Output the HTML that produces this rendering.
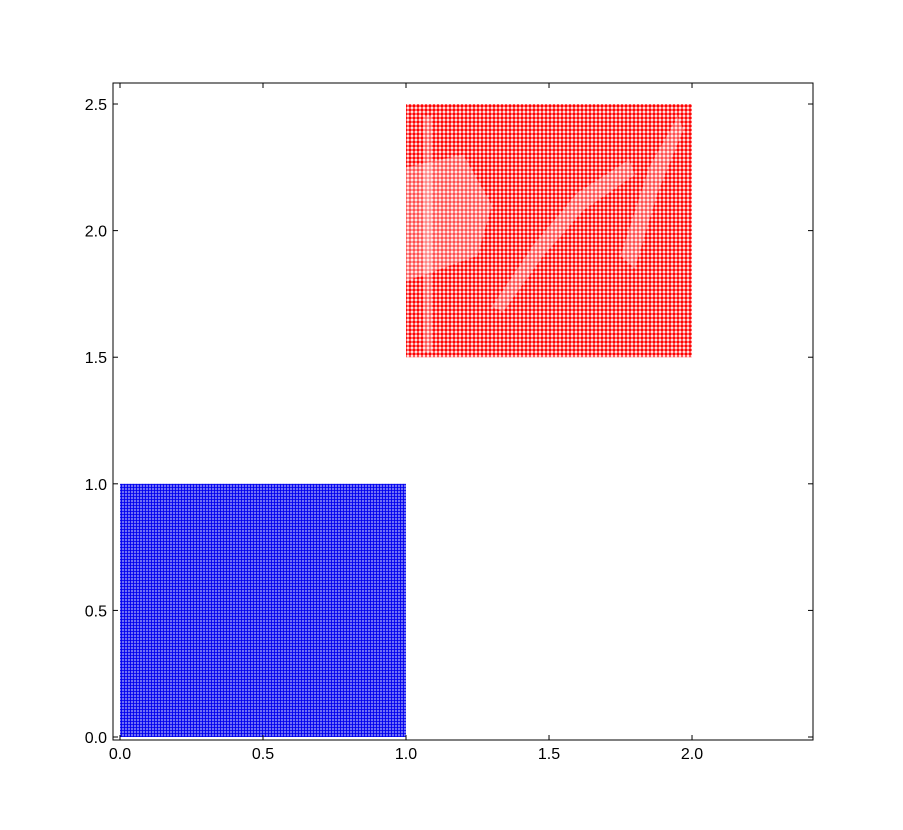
<!DOCTYPE html>
<html><head><meta charset="utf-8"><style>
body{margin:0;background:#fff;}
svg text{font-family:"Liberation Sans",sans-serif;font-size:16px;fill:#000;}
</style></head><body>
<svg id="chart" width="903" height="825">
<defs>
<pattern id="bdots" width="3" height="3" patternUnits="userSpaceOnUse"><rect width="3" height="3" fill="#fff"/><circle cx="1.5" cy="1.5" r="1.45" fill="#0000ee"/></pattern>
<pattern id="rdots" width="4" height="4" patternUnits="userSpaceOnUse"><rect width="4" height="4" fill="#fff"/><circle cx="2" cy="2" r="1.7" fill="#ff0000"/></pattern>
</defs>
<g id="marks"></g>
<g id="axes"></g>
</svg>
<script>
// data
const xTicks=[0,0.5,1,1.5,2];
const xTickLabels=["0.0","0.5","1.0","1.5","2.0"];
const yTicks=[0,0.5,1,1.5,2,2.5];
const yTickLabels=["0.0","0.5","1.0","1.5","2.0","2.5"];
const blueX=[0,1];const blueY=[0,1];
const redX=[1,2];const redY=[1.5,2.5];
// sparse (whiter) regions in the red stipple image, polygons in data units
const redGaps=[
 [1.06,1.52, 1.09,1.52, 1.09,2.45, 1.06,2.45],
 [1.3,1.7, 1.45,1.95, 1.6,2.15, 1.78,2.28, 1.8,2.22, 1.62,2.08, 1.48,1.9, 1.34,1.68],
 [1.75,1.9, 1.85,2.25, 1.95,2.45, 1.97,2.4, 1.88,2.15, 1.8,1.85],
 [1.0,2.25, 1.2,2.3, 1.3,2.1, 1.25,1.9, 1.0,1.8]
];
const ax={l:113,r:813,t:83,b:740,xmin:-0.0245,xmax:2.423,ymin:-0.0118,ymax:2.583};
const X=v=>ax.l+(v-ax.xmin)/(ax.xmax-ax.xmin)*(ax.r-ax.l);
const Y=v=>ax.b-(v-ax.ymin)/(ax.ymax-ax.ymin)*(ax.b-ax.t);
const NS="http://www.w3.org/2000/svg";
function mk(t,a,p){const e=document.createElementNS(NS,t);for(const k in a)e.setAttribute(k,a[k]);p.appendChild(e);return e;}
const marks=document.getElementById('marks'),axes=document.getElementById('axes');
const b=mk('rect',{x:X(blueX[0]),y:Y(blueY[1]),width:X(blueX[1])-X(blueX[0]),height:Y(blueY[0])-Y(blueY[1]),fill:'url(#bdots)'},marks);


const r=mk('rect',{x:X(redX[0]),y:Y(redY[1]),width:X(redX[1])-X(redX[0]),height:Y(redY[0])-Y(redY[1]),fill:'url(#rdots)'},marks);


redGaps.forEach(g=>{let pts=[];for(let i=0;i<g.length;i+=2)pts.push(X(g[i])+','+Y(g[i+1]));
 const p=mk('polygon',{points:pts.join(' '),fill:'#fff',opacity:0.3},marks);
 
 });
const f=mk('rect',{x:ax.l,y:ax.t,width:ax.r-ax.l,height:ax.b-ax.t,fill:'none',stroke:'#000','stroke-width':1},axes);


xTicks.forEach((v,i)=>{const x=X(v);
 mk('line',{x1:x,x2:x,y1:ax.b,y2:ax.b-5,stroke:'#000'},axes);
 mk('line',{x1:x,x2:x,y1:ax.t,y2:ax.t+5,stroke:'#000'},axes);
 const t=mk('text',{x:x,y:ax.b+19,'text-anchor':'middle'},axes);t.textContent=xTickLabels[i];
 
 });
yTicks.forEach((v,i)=>{const y=Y(v);
 mk('line',{x1:ax.l,x2:ax.l+5,y1:y,y2:y,stroke:'#000'},axes);
 mk('line',{x1:ax.r,x2:ax.r-5,y1:y,y2:y,stroke:'#000'},axes);
 const t=mk('text',{x:ax.l-6,y:y+6,'text-anchor':'end'},axes);t.textContent=yTickLabels[i];
 
 });
</script>
</body></html>
